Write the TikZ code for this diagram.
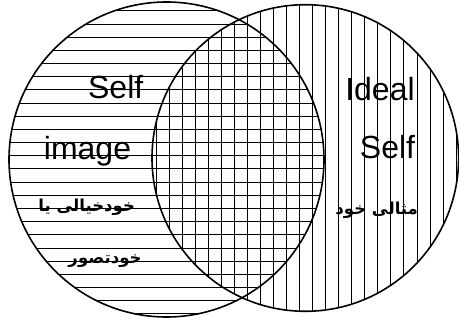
\documentclass[tikz,border=0pt]{standalone}
\usepackage{fontspec}
\setmainfont{Liberation Sans}
\newfontfamily\urdufont[Script=Arabic]{DejaVu Sans}
\TeXXeTstate=1
\usetikzlibrary{positioning}

\tikzset{
  ring/.style={black, line width=1.6pt},
  hatch/.style={black, line width=1pt},
  engtext/.style={font=\fontsize{32}{32}\selectfont, inner sep=0pt, anchor=base},
  urdutext/.style={font=\urdufont\bfseries\fontsize{16.5}{16.5}\selectfont, inner sep=0pt}
}

\begin{document}
\begin{tikzpicture}[x=1pt, y=1pt]
\useasboundingbox (0,0) rectangle (459,324);
\coordinate (selfc) at (166.5,164.5);
\coordinate (idealc) at (305.3,166);
% horizontal hatching, self image
\begin{scope}
\clip (selfc) circle (157.5);
\draw[hatch] (0,313.0) -- (330,313.0);
\draw[hatch] (0,299.8) -- (330,299.8);
\draw[hatch] (0,286.7) -- (330,286.7);
\draw[hatch] (0,273.5) -- (330,273.5);
\draw[hatch] (0,260.3) -- (330,260.3);
\draw[hatch] (0,247.2) -- (330,247.2);
\draw[hatch] (0,234.0) -- (330,234.0);
\draw[hatch] (0,220.8) -- (330,220.8);
\draw[hatch] (0,207.6) -- (330,207.6);
\draw[hatch] (0,194.5) -- (330,194.5);
\draw[hatch] (0,181.3) -- (330,181.3);
\draw[hatch] (0,168.1) -- (330,168.1);
\draw[hatch] (0,155.0) -- (330,155.0);
\draw[hatch] (0,141.8) -- (330,141.8);
\draw[hatch] (0,128.6) -- (330,128.6);
\draw[hatch] (0,115.5) -- (330,115.5);
\draw[hatch] (0,102.3) -- (330,102.3);
\draw[hatch] (0,89.1) -- (330,89.1);
\draw[hatch] (0,75.9) -- (330,75.9);
\draw[hatch] (0,62.8) -- (330,62.8);
\draw[hatch] (0,49.6) -- (330,49.6);
\draw[hatch] (0,36.4) -- (330,36.4);
\draw[hatch] (0,23.3) -- (330,23.3);
\draw[hatch] (0,10.1) -- (330,10.1);
\end{scope}
% vertical hatching, ideal self
\begin{scope}
\clip (idealc) circle (153.3);
\draw[hatch] (156.0,0) -- (156.0,324);
\draw[hatch] (169.0,0) -- (169.0,324);
\draw[hatch] (182.1,0) -- (182.1,324);
\draw[hatch] (195.1,0) -- (195.1,324);
\draw[hatch] (208.2,0) -- (208.2,324);
\draw[hatch] (221.2,0) -- (221.2,324);
\draw[hatch] (234.3,0) -- (234.3,324);
\draw[hatch] (247.3,0) -- (247.3,324);
\draw[hatch] (260.4,0) -- (260.4,324);
\draw[hatch] (273.4,0) -- (273.4,324);
\draw[hatch] (286.5,0) -- (286.5,324);
\draw[hatch] (299.5,0) -- (299.5,324);
\draw[hatch] (312.6,0) -- (312.6,324);
\draw[hatch] (325.6,0) -- (325.6,324);
\draw[hatch] (338.7,0) -- (338.7,324);
\draw[hatch] (351.7,0) -- (351.7,324);
\draw[hatch] (364.8,0) -- (364.8,324);
\draw[hatch] (377.8,0) -- (377.8,324);
\draw[hatch] (390.9,0) -- (390.9,324);
\draw[hatch] (403.9,0) -- (403.9,324);
\draw[hatch] (417.0,0) -- (417.0,324);
\draw[hatch] (430.0,0) -- (430.0,324);
\draw[hatch] (443.1,0) -- (443.1,324);
\draw[hatch] (456.1,0) -- (456.1,324);
\end{scope}
% outlines
\draw[ring] (selfc) circle (157.5);
\draw[ring] (idealc) circle (153.3);
% labels
\node[engtext] (selfword) at (115.7,225.7) {Self};
\node[engtext] (imageword) at (87.5,164.7) {image};
\node[urdutext] (selfurdu) at (86.7,116.5) {\beginR خودخیالی یا\endR};
\node[urdutext] (concepturdu) at (105,62.5) {\beginR خودتصور\endR};
\node[engtext] (idealword) at (380,223.3) {Ideal};
\node[engtext] (idealself) at (387.5,165.7) {Self};
\node[urdutext] (idealurdu) at (376.7,114) {\beginR مثالی خود\endR};
\end{tikzpicture}
\end{document}
